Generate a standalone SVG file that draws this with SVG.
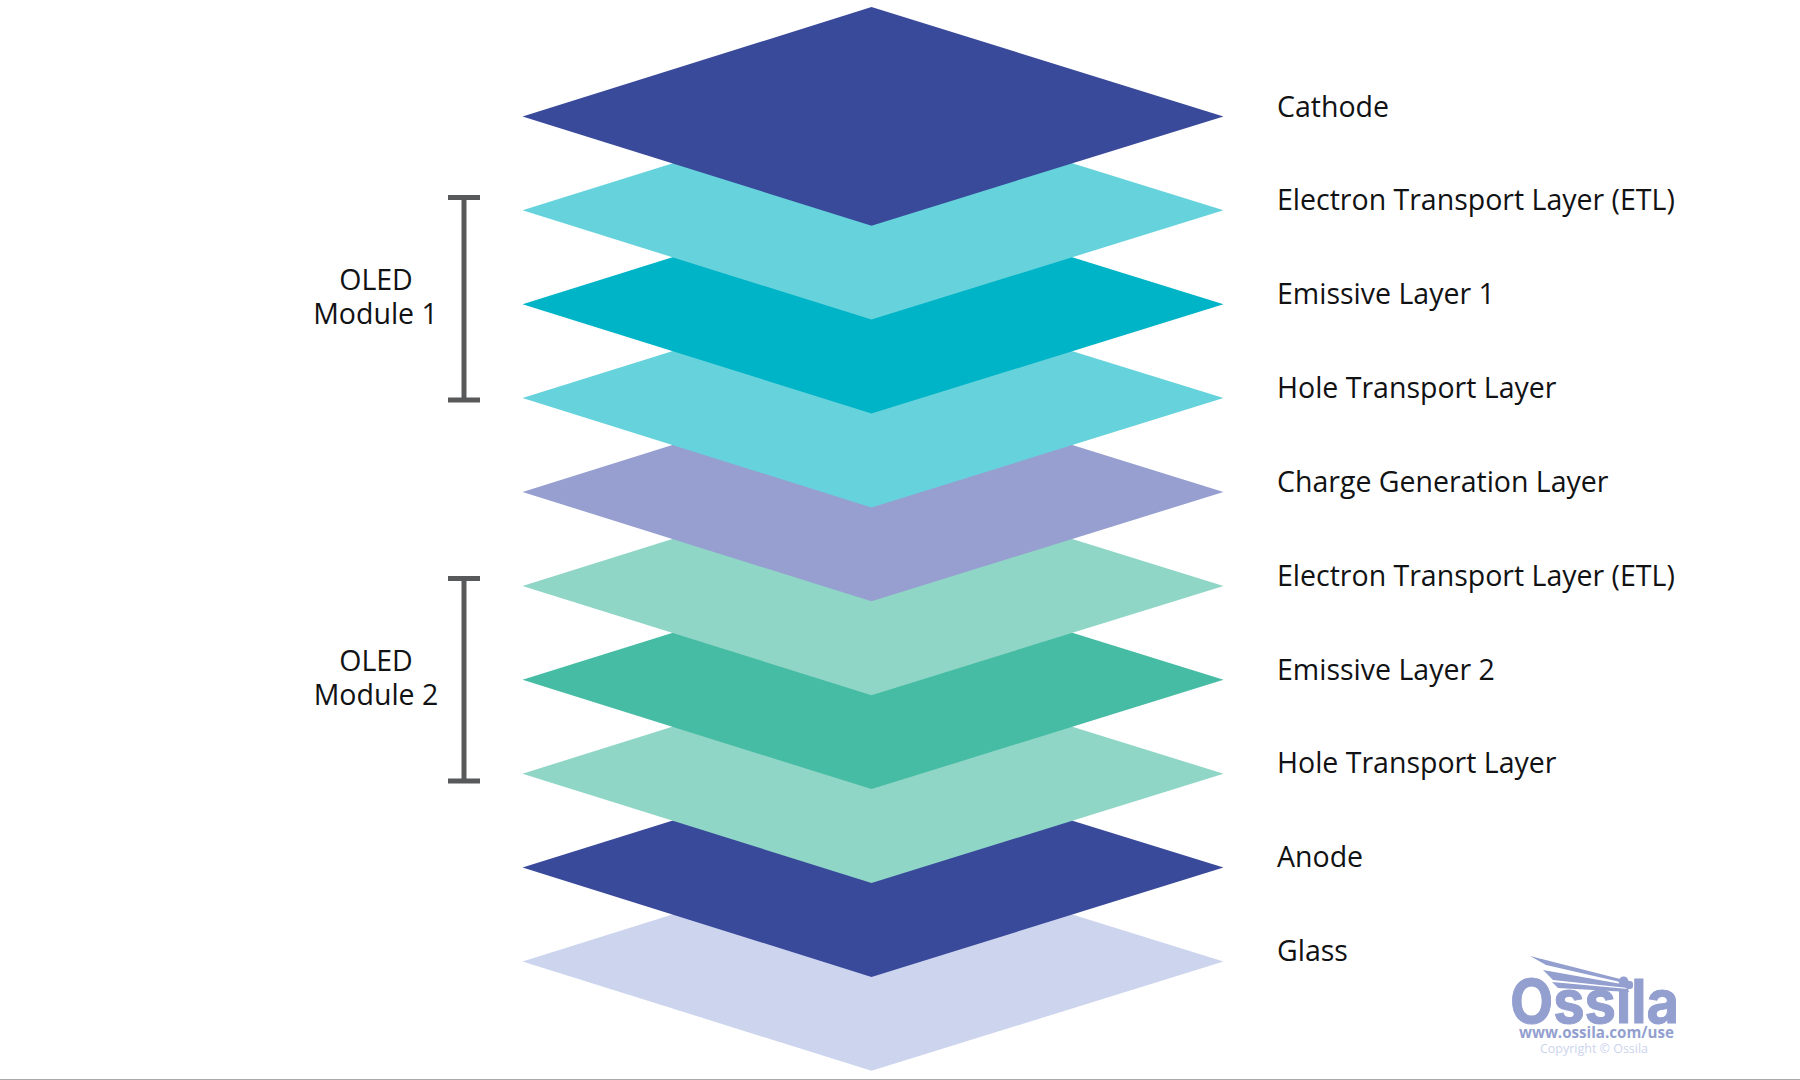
<svg xmlns="http://www.w3.org/2000/svg" xmlns:xlink="http://www.w3.org/1999/xlink" width="1800" height="1080" viewBox="0 0 1800 1080">
<style>
text{font-family:"Open Sans","Noto Sans",sans-serif;fill:#111214}
.l{font-size:28.5px}
.m{font-size:28.5px;text-anchor:middle}
.b{fill:#58595b}
.w{fill:#939fcf}
</style>
<defs><polygon id="d" points="522.5,0 871.5,-109.300 1223.500,0 871.500,109.300"/></defs>
<rect width="1800" height="1080" fill="#fff"/>
<rect y="1079" width="1800" height="1" fill="#a9a9a9"/>
<g id="glass"><use href="#d" y="961.5" fill="#ccd4ee"/><text class="l" x="1277" y="960.500">Glass</text></g>
<g id="anode"><use href="#d" y="867.6" fill="#3a4a9b"/><text class="l" x="1277" y="866.500">Anode</text></g>
<g id="htl2"><use href="#d" y="773.7" fill="#8fd6c6"/><text class="l" x="1277" y="773">Hole Transport Layer</text></g>
<g id="eml2"><use href="#d" y="679.8" fill="#45bca3"/><text class="l" x="1277" y="679.500">Emissive Layer 2</text></g>
<g id="etl2"><use href="#d" y="585.9" fill="#8fd6c6"/><text class="l" x="1277" y="585.500">Electron Transport Layer (ETL)</text></g>
<g id="cgl"><use href="#d" y="492" fill="#969fd0"/><text class="l" x="1277" y="491.500">Charge Generation Layer</text></g>
<g id="htl1"><use href="#d" y="398.1" fill="#66d3dc"/><text class="l" x="1277" y="397.500">Hole Transport Layer</text></g>
<g id="eml1"><use href="#d" y="304.2" fill="#00b4c8"/><text class="l" x="1277" y="303.500">Emissive Layer 1</text></g>
<g id="etl1"><use href="#d" y="210.3" fill="#66d3dc"/><text class="l" x="1277" y="210">Electron Transport Layer (ETL)</text></g>
<g id="cathode"><use href="#d" y="116.4" fill="#3a4a9b"/><text class="l" x="1277" y="116.500">Cathode</text></g>
<g id="module1">
<rect class="b" x="461.5" y="197" width="5" height="203"/><rect class="b" x="448" y="195" width="32" height="5"/><rect class="b" x="448" y="397.500" width="32" height="5"/>
<text class="m" x="376" y="290">OLED</text><text class="m" x="375.500" y="324">Module 1</text></g>
<g id="module2">
<rect class="b" x="461.5" y="578" width="5" height="203"/><rect class="b" x="448" y="576" width="32" height="5"/><rect class="b" x="448" y="778.500" width="32" height="5"/>
<text class="m" x="376" y="671">OLED</text><text class="m" x="376" y="705">Module 2</text></g>
<g id="logo">
<polygon class="w" points="1530,956 1628,981 1629,984 1546,965"/>
<polygon class="w" points="1543,970 1627,985 1628,988 1553,980"/>
<polygon class="w" points="1552,982 1628,989 1629,992 1558,988"/>
<rect class="w" x="1625" y="981" width="8" height="8" rx="3"/>
<text x="1510" y="1023" textLength="169" lengthAdjust="spacingAndGlyphs" style="font-family:Inter,'Liberation Sans',sans-serif;font-weight:700;font-size:60px;fill:#939fcf;stroke:#939fcf;stroke-width:1">Ossila</text>
<text x="1519" y="1038" textLength="155" lengthAdjust="spacingAndGlyphs" style="font-weight:700;font-size:15.500px;fill:#939fcf">www.ossila.com/use</text>
<text x="1540" y="1053" textLength="108" lengthAdjust="spacingAndGlyphs" style="font-size:12.500px;fill:#ccd4ee">Copyright © Ossila</text>
</g>
</svg>
